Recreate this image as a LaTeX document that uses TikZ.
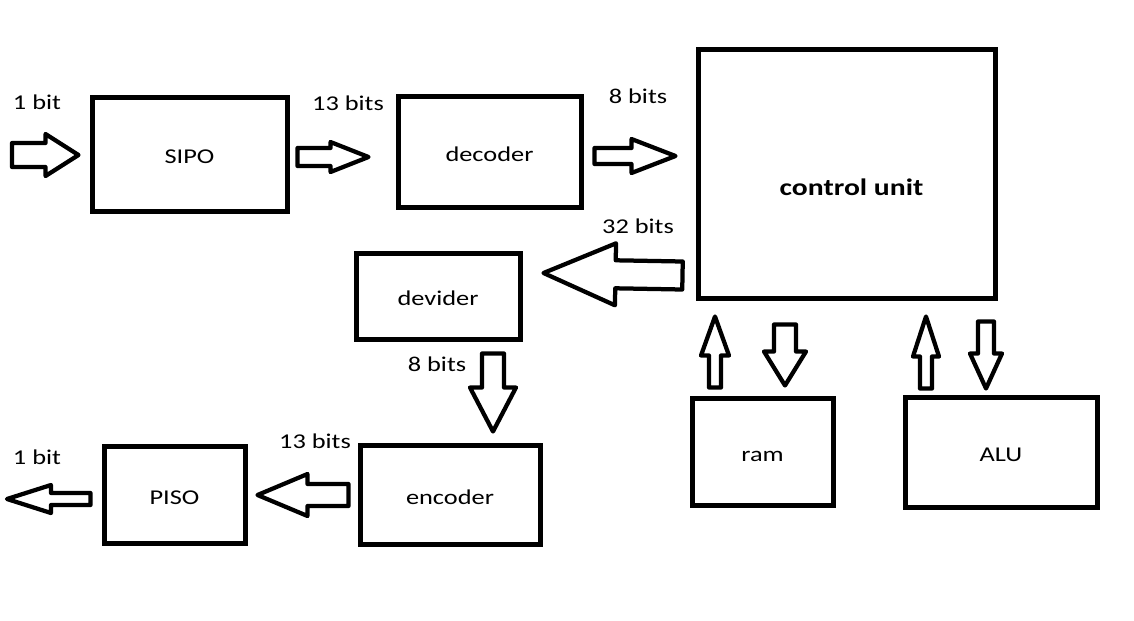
\documentclass[tikz,border=0pt]{standalone}
\usepackage{graphicx}
\usepackage{fontspec}
\setmainfont{Carlito}
\usetikzlibrary{calc}

% wide lettering of the drawing
\newcommand{\stretched}[1]{\scalebox{1.25}[1]{#1}}
% hollow block arrow: from, to, shaft half width, head half width, head length (px)
\newcommand{\fatarrow}[5]{%
  \coordinate (hb) at ($(#2)!#5*0.02cm!(#1)$);
  \draw [fat] ($(#1)!#3*0.02cm!90:(#2)$) -- ($(hb)!#3*0.02cm!-90:(#1)$)
    -- ($(hb)!#4*0.02cm!-90:(#1)$) -- (#2) -- ($(hb)!#4*0.02cm!90:(#1)$)
    -- ($(hb)!#3*0.02cm!90:(#1)$) -- ($(#1)!#3*0.02cm!-90:(#2)$) -- cycle;
}

\tikzset{
  box/.style={draw,line width=0.1cm,inner sep=0pt,text height=0.38cm,text depth=0pt,
    font=\fontsize{12}{14}\selectfont},
  lbl/.style={inner sep=0pt,font=\fontsize{12}{14}\selectfont},
  fat/.style={draw,line width=0.085cm,line join=round}
}

\begin{document}
\begin{tikzpicture}[x=0.02cm,y=-0.02cm]
\useasboundingbox (0,0) rectangle (1134,620);

\node [box,minimum width=195*0.02cm,minimum height=114*0.02cm] (sipo)    at (189.5,154)   {\stretched{SIPO}};
\node [box,minimum width=183*0.02cm,minimum height=111*0.02cm] (decoder) at (489.5,151.5) {\stretched{decoder}};
\node [box,minimum width=297*0.02cm,minimum height=249*0.02cm] (ctrl)    at (846.5,173.5) {};
\node [lbl,font=\fontsize{13.5}{16}\selectfont\bfseries] (ctrltext) at ($(ctrl)+(5,14)$) {\stretched{control unit}};
\node [box,minimum width=164*0.02cm,minimum height=86*0.02cm]  (devider) at (438,296)     {\stretched{devider}};
\node [box,minimum width=180*0.02cm,minimum height=99*0.02cm]  (encoder) at (450,494.5)   {\stretched{encoder}};
\node [box,minimum width=141*0.02cm,minimum height=97*0.02cm]  (piso)    at (174.5,494.5) {\stretched{PISO}};
\node [box,minimum width=141*0.02cm,minimum height=107*0.02cm] (ram)     at (762.5,451.5) {\stretched{ram}};
\node [box,minimum width=192*0.02cm,minimum height=110*0.02cm] (alu)     at (1001,452)    {\stretched{ALU}};

\node [lbl] (lblin)  at (37,102)  {\stretched{1 bit}};
\node [lbl] (lblsd)  at (348,103) {\stretched{13 bits}};
\node [lbl] (lbldc)  at (638,96)  {\stretched{8 bits}};
\node [lbl] (lblcd)  at (638,226) {\stretched{32 bits}};
\node [lbl] (lblde)  at (437,364) {\stretched{8 bits}};
\node [lbl] (lblep)  at (315,441) {\stretched{13 bits}};
\node [lbl] (lblout) at (37,457)  {\stretched{1 bit}};

% serial in / out
\coordinate (in)  at (12,155);
\coordinate (out) at (7,499);
\coordinate (a1) at ($(sipo.west)+(-11,1)$);
\fatarrow{in}{a1}{12}{21}{33}
\coordinate (a2) at ($(piso.west)+(-11,4.5)$);
\fatarrow{a2}{out}{6}{14}{44}

% top row
\coordinate (b1) at ($(sipo.east)+(8,3)$);
\coordinate (b2) at ($(decoder.west)+(-27,5.5)$);
\fatarrow{b1}{b2}{9}{15}{38}
\coordinate (c1) at ($(decoder.east)+(11,4.5)$);
\coordinate (c2) at ($(ctrl.west)+(-20,-17.5)$);
\fatarrow{c1}{c2}{8}{17}{44}

% back down to the output
\coordinate (d1) at ($(ctrl.south west)+(-13,-25)$);
\coordinate (d2) at ($(devider.east)+(21,-23)$);
\fatarrow{d1}{d2}{14}{31}{72}
\coordinate (e1) at ($(devider.south)+(55,12)$);
\coordinate (e2) at ($(encoder.north)+(43,-11)$);
\fatarrow{e1}{e2}{11}{23}{44}
\coordinate (f1) at ($(encoder.west)+(-9,0.5)$);
\coordinate (f2) at ($(piso.east)+(10,0.5)$);
\fatarrow{f1}{f2}{11}{21}{50}

% ram and ALU
\coordinate (r1) at ($(ram.north)+(-47.5,-8)$);
\coordinate (r2) at ($(r1 |- ctrl.south)+(0,16)$);
\fatarrow{r1}{r2}{6}{14}{39}
\coordinate (r4) at ($(ram.north)+(22.5,-10)$);
\coordinate (r3) at ($(r4 |- ctrl.south)+(0,24)$);
\fatarrow{r3}{r4}{11}{21}{34}
\coordinate (u1) at ($(alu.north)+(-75,-6)$);
\coordinate (u2) at ($(u1 |- ctrl.south)+(0,16)$);
\fatarrow{u1}{u2}{6}{13}{40}
\coordinate (u4) at ($(alu.north)+(-15,-6)$);
\coordinate (u3) at ($(u4 |- ctrl.south)+(0,21)$);
\fatarrow{u3}{u4}{8}{16}{35}
\end{tikzpicture}
\end{document}
